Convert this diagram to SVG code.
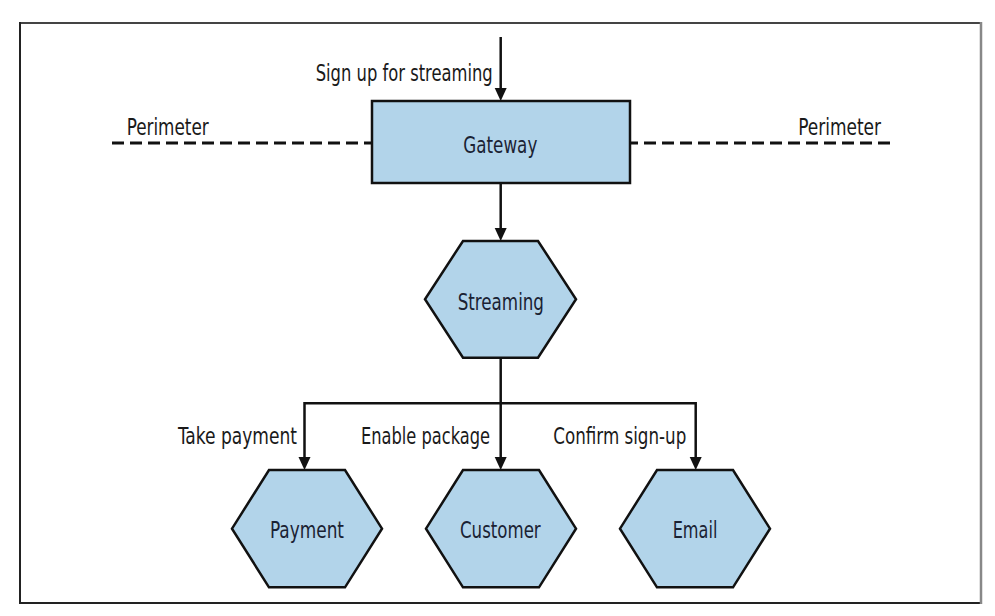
<svg xmlns="http://www.w3.org/2000/svg" width="995" height="616" viewBox="0 0 995 616">
<style>
.lbl{font-family:"DejaVu Sans Condensed","DejaVu Sans","Liberation Sans",sans-serif;font-size:23.5px;fill:#1a1a1a;}
.nt{font-family:"DejaVu Sans Condensed","DejaVu Sans","Liberation Sans",sans-serif;font-size:23.5px;fill:#1a2233;}
.node{fill:#b2d4ea;stroke:#111;stroke-width:2.5;stroke-linejoin:miter;}
.conn{fill:none;stroke:#111;stroke-width:2.5;}
.dash{fill:none;stroke:#111;stroke-width:3;stroke-dasharray:12 6;}
</style>
<defs>
<marker id="ah" markerUnits="userSpaceOnUse" markerWidth="13" markerHeight="13" viewBox="0 0 13 13" refX="6.5" refY="6.5" orient="auto">
<path d="M0,0.5 L13,6.5 L0,12.5 z" fill="#111"/>
</marker>
</defs>
<rect x="0" y="0" width="995" height="616" fill="#fff"/>
<g id="frame">
<line x1="20" y1="23" x2="981" y2="23" stroke="#444" stroke-width="2"/>
<line x1="20" y1="22" x2="20" y2="603" stroke="#222" stroke-width="2"/>
<line x1="19" y1="603" x2="981" y2="603" stroke="#222" stroke-width="2"/>
<line x1="981" y1="22" x2="981" y2="604" stroke="#888" stroke-width="2.5"/>
</g>
<g id="perimeter">
<path class="dash" d="M112,143 L372,143"/>
<path class="dash" d="M890,143 L631,143"/>
<text class="lbl" x="126.7" y="134.5" textLength="82" lengthAdjust="spacingAndGlyphs">Perimeter</text>
<text class="lbl" x="798.3" y="134.5" textLength="82.7" lengthAdjust="spacingAndGlyphs">Perimeter</text>
</g>
<g id="connectors">
<path class="conn" d="M500.7,37 L500.7,94.5" marker-end="url(#ah)"/>
<path class="conn" d="M500.7,183 L500.7,234.5" marker-end="url(#ah)"/>
<path class="conn" d="M500.7,357.7 L500.7,463.5" marker-end="url(#ah)"/>
<path class="conn" d="M500.7,403.3 L304.5,403.3 L304.5,463.5" marker-end="url(#ah)"/>
<path class="conn" d="M500.7,403.3 L695.7,403.3 L695.7,463.5" marker-end="url(#ah)"/>
<text class="lbl" x="315.7" y="80.5" textLength="177" lengthAdjust="spacingAndGlyphs">Sign up for streaming</text>
<text class="lbl" x="178" y="443.5" textLength="119" lengthAdjust="spacingAndGlyphs">Take payment</text>
<text class="lbl" x="361" y="443.5" textLength="129" lengthAdjust="spacingAndGlyphs">Enable package</text>
<text class="lbl" x="553.3" y="443.5" textLength="133" lengthAdjust="spacingAndGlyphs">Confirm sign-up</text>
</g>
<g id="gateway">
<rect class="node" x="372" y="101" width="258" height="82"/>
<text class="nt" x="463.3" y="153" textLength="74" lengthAdjust="spacingAndGlyphs">Gateway</text>
</g>
<g id="streaming">
<polygon class="node" points="463,241 538,241 576,299.2 538,357.7 463,357.7 425,299.2"/>
<text class="nt" x="457.7" y="310" textLength="86.3" lengthAdjust="spacingAndGlyphs">Streaming</text>
</g>
<g id="payment">
<polygon class="node" points="269,470 345,470 382,528.7 345,587.3 269,587.3 232,528.7"/>
<text class="nt" x="270" y="537.5" textLength="74" lengthAdjust="spacingAndGlyphs">Payment</text>
</g>
<g id="customer">
<polygon class="node" points="463,470 539,470 576,528.7 539,587.3 463,587.3 426,528.7"/>
<text class="nt" x="460" y="537.5" textLength="80.7" lengthAdjust="spacingAndGlyphs">Customer</text>
</g>
<g id="email">
<polygon class="node" points="657,470 733,470 770,528.7 733,587.3 657,587.3 620,528.7"/>
<text class="nt" x="672.7" y="537.5" textLength="44.7" lengthAdjust="spacingAndGlyphs">Email</text>
</g>
</svg>
